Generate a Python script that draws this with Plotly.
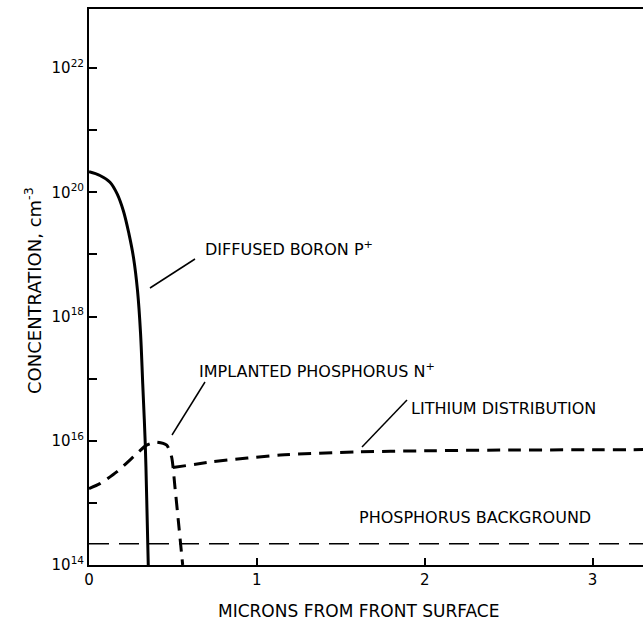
import plotly.graph_objects as go

# ---- data ----
boron_x = [0.0, 0.065, 0.125, 0.167, 0.205, 0.238, 0.265, 0.289, 0.307, 0.320, 0.335, 0.344, 0.353]
boron_y = [2.14e20, 1.86e20, 1.45e20, 9.5e19, 5.0e19, 2.14e19, 8.9e18, 2.6e18, 5.4e17, 8.3e16,
           9.1e15, 1.1e15, 1.0e14]

implant_x = [0.0, 0.065, 0.165, 0.264, 0.343, 0.403, 0.463, 0.492, 0.512, 0.532, 0.558]
implant_y = [1.7e15, 2.04e15, 3.16e15, 5.5e15, 8.5e15, 9.5e15, 8.5e15, 5.5e15, 1.8e15, 5.2e14, 1.0e14]

lithium_x = [0.50, 0.74, 1.14, 1.59, 2.0, 2.5, 3.0, 3.3]
lithium_y = [3.7e15, 4.6e15, 5.9e15, 6.6e15, 6.9e15, 7.1e15, 7.15e15, 7.2e15]

background_x = [0.0, 3.3]
background_y = [2.2e14, 2.2e14]

x_ticks = [0, 1, 2, 3]
y_tickvals = [1e14, 1e15, 1e16, 1e17, 1e18, 1e19, 1e20, 1e21, 1e22]
y_ticktext = ["10<sup>14</sup>", "", "10<sup>16</sup>", "", "10<sup>18</sup>", "",
              "10<sup>20</sup>", "", "10<sup>22</sup>"]

FONT = "DejaVu Sans"
W, H = 643, 626
L, R, T, B = 89, 0, 9, 61
PW, PH = W - L - R, H - T - B


def px(x):
    return (x - L) / PW


def py(y):
    return (H - B - y) / PH


fig = go.Figure()
fig.add_trace(go.Scatter(x=boron_x, y=boron_y, mode="lines",
                         line=dict(color="black", width=3, shape="spline", smoothing=1.0),
                         showlegend=False))
fig.add_trace(go.Scatter(x=implant_x, y=implant_y, mode="lines",
                         line=dict(color="black", width=3, dash="13px,8px", shape="spline", smoothing=0.6),
                         showlegend=False))
fig.add_trace(go.Scatter(x=lithium_x, y=lithium_y, mode="lines",
                         line=dict(color="black", width=3, dash="13px,8px", shape="spline", smoothing=0.6),
                         showlegend=False))
fig.add_trace(go.Scatter(x=background_x, y=background_y, mode="lines",
                         line=dict(color="black", width=1.5, dash="20px,10px"),
                         showlegend=False))

labels = [
    ("DIFFUSED BORON P<sup>+</sup>", 203, 248),
    ("IMPLANTED PHOSPHORUS N<sup>+</sup>", 197, 370),
    ("LITHIUM DISTRIBUTION", 409, 408),
    ("PHOSPHORUS BACKGROUND", 357, 517),
]
anns = []
for text, x0, y0 in labels:
    anns.append(dict(text=text, x=px(x0), y=py(y0), xref="paper", yref="paper",
                     xanchor="left", yanchor="middle", showarrow=False,
                     font=dict(family=FONT, size=16, color="black")))

anns.append(dict(text="MICRONS FROM FRONT SURFACE", x=px(358), y=py(611), xref="paper", yref="paper",
                 xanchor="center", yanchor="middle", showarrow=False,
                 font=dict(family=FONT, size=17, color="black")))
anns.append(dict(text="CONCENTRATION, cm<sup>-3</sup>", x=px(33), y=py(291), xref="paper", yref="paper",
                 xanchor="center", yanchor="middle", showarrow=False, textangle=-90,
                 font=dict(family=FONT, size=18, color="black")))

leaders = [((195, 259), (150, 288)), ((205, 382), (172, 435)), ((407, 400), (362, 447))]
shapes = []
for (x0, y0), (x1, y1) in leaders:
    shapes.append(dict(type="line", xref="paper", yref="paper",
                       x0=px(x0), y0=py(y0), x1=px(x1), y1=py(y1),
                       line=dict(color="black", width=1.5)))

fig.update_layout(
    width=W, height=H,
    margin=dict(l=L, r=R, t=T, b=B),
    paper_bgcolor="white", plot_bgcolor="white",
    font=dict(family=FONT, size=15, color="black"),
    annotations=anns, shapes=shapes,
    xaxis=dict(range=[0, 3.3], tickvals=x_ticks, ticks="inside", ticklen=7, tickwidth=1.5,
               tickcolor="black", showline=True, linecolor="black", linewidth=2, mirror=True,
               showgrid=False, zeroline=False, tickfont=dict(family=FONT, size=15)),
    yaxis=dict(type="log", range=[14, 22.95], tickvals=y_tickvals, ticktext=y_ticktext,
               ticks="inside", ticklen=8, tickwidth=1.5, tickcolor="black",
               showline=True, linecolor="black", linewidth=2, showgrid=False, zeroline=False,
               tickfont=dict(family=FONT, size=15)),
)

fig.write_html("out.html", config={"displayModeBar": False},
               post_script="document.body.style.margin='0px';document.body.style.overflow='hidden';")
